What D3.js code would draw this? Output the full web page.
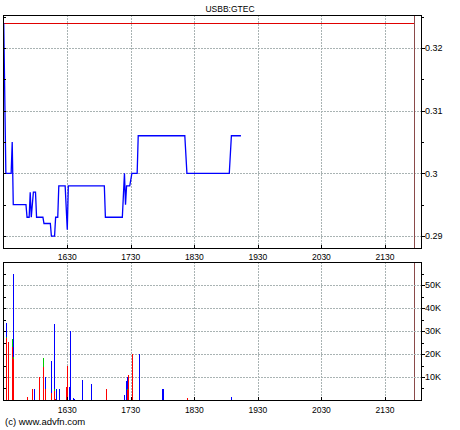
<!DOCTYPE html>
<html><head><meta charset="utf-8">
<script src="https://cdn.jsdelivr.net/npm/d3@7/dist/d3.min.js"></script>
<style>
html,body{margin:0;padding:0;background:#fff;}
svg{display:block;font-family:Arial,"Liberation Sans",sans-serif;}
</style></head>
<body>
<svg id="chart" width="460" height="430"></svg>
<script>
// ---- data (time in minutes since midnight) ----
const title = "USBB:GTEC";
const priceTimes  = [930,932,937,938,939,951,952,954,955,956,958,960,961,967,968,974,975,978,979,981,982,988,990,991,1025,1026,1042,1044,1045,1046,1049,1051,1056,1057,1101,1103,1143,1145,1154];
const priceValues = [0.324,0.300,0.300,0.305,0.295,0.295,0.293,0.293,0.297,0.293,0.297,0.297,0.293,0.293,0.292,0.292,0.290,0.290,0.293,0.293,0.298,0.298,0.291,0.298,0.298,0.293,0.293,0.300,0.295,0.298,0.298,0.300,0.300,0.306,0.306,0.300,0.300,0.306,0.306];
const prevClose = 0.324;
const markerTime = 1317;

const volTimes = [932,934,938,939,952,957,959,963,967,969,975,977,978,979,982,989,990,992,993,995,996,1004,1012,1027,1044,1045,1046,1047,1051,1058,1079,1080,1103,1145];
const volRed   = [26800,25400,22900,17700,1300,4800,0,10000,14500,4900,3000,4000,300,0,0,5800,14800,0,0,0,0,0,0,4900,0,0,4400,10900,20000,0,0,0,1000,0];
const volGreen = [700,0,3600,900,0,0,0,0,3800,0,0,600,0,0,0,0,0,0,0,0,0,0,0,0,0,0,600,0,0,0,0,0,0,0];
const volBlue  = [6100,0,0,36200,0,0,4800,0,0,5200,14000,28400,0,4800,4800,0,0,5800,30000,900,400,8700,7000,0,2000,8300,5000,0,0,20000,4900,4900,0,1300];

const xTickValues = [990,1050,1110,1170,1230,1290];
const xTickLabels = ["1630","1730","1830","1930","2030","2130"];
const priceTicks = [0.29,0.30,0.31,0.32];
const priceTickLabels = ["0.29","0.3","0.31","0.32"];
const priceMinorTicks = [0.29,0.295,0.30,0.305,0.31,0.315,0.32,0.325];
const volTicks = [10000,20000,30000,40000,50000];
const volTickLabels = ["10K","20K","30K","40K","50K"];
const volMinorTicks = [5000,10000,15000,20000,25000,30000,35000,40000,45000,50000,55000];
const copyright = "(c) www.advfn.com";

// ---- layout ----
const svg = d3.select("#chart");
const L = 3, R = 422;
const x = d3.scaleLinear().domain([929.3, 1325]).range([L, R]);
const P = {top:15, bottom:248};
const V = {top:262, bottom:400};
const yP = d3.scaleLinear().domain([0.28809, 0.32527]).range([P.bottom, P.top]);
const yV = d3.scaleLinear().domain([0, 60000]).range([V.bottom, V.top]);
const gridColor = "#a9b3b3";
const r5 = v => Math.round(v) + 0.5;

function panel(top, bottom, yScale, majors, labels, minors, labelSize, fmtLabels) {
  const g = svg.append("g");
  // vertical grid
  g.selectAll(".vg").data(xTickValues).enter().append("line")
    .attr("x1", d => r5(x(d))).attr("x2", d => r5(x(d)))
    .attr("y1", top).attr("y2", bottom)
    .attr("stroke", gridColor).attr("stroke-dasharray", "2,1").attr("shape-rendering","crispEdges");
  // horizontal grid
  g.selectAll(".hg").data(majors).enter().append("line")
    .attr("x1", L).attr("x2", R)
    .attr("y1", d => r5(yScale(d))).attr("y2", d => r5(yScale(d)))
    .attr("stroke", gridColor).attr("stroke-dasharray", "2,1").attr("shape-rendering","crispEdges");
  return g;
}

function frame(top, bottom, yScale, majors, labels, minors) {
  const g = svg.append("g").attr("shape-rendering","crispEdges");
  g.append("rect").attr("x", L + 0.5).attr("y", top + 0.5)
    .attr("width", R - L - 1).attr("height", bottom - top)
    .attr("fill","none").attr("stroke","#000").attr("stroke-width",1.3);
  // left inner minor ticks
  g.selectAll(".lt").data(minors).enter().append("line")
    .attr("x1", L).attr("x2", L + 3)
    .attr("y1", d => r5(yScale(d))).attr("y2", d => r5(yScale(d)))
    .attr("stroke","#000");
  // right outward ticks
  g.selectAll(".rt").data(minors).enter().append("line")
    .attr("x1", R - 1).attr("x2", d => majors.includes(d) ? R + 3 : R + 1.5)
    .attr("y1", d => r5(yScale(d))).attr("y2", d => r5(yScale(d)))
    .attr("stroke","#000");
  // bottom inner x ticks
  g.selectAll(".bt").data(xTickValues).enter().append("line")
    .attr("x1", d => r5(x(d))).attr("x2", d => r5(x(d)))
    .attr("y1", bottom + 0.5).attr("y2", bottom - 3)
    .attr("stroke","#000");
  // right labels
  svg.append("g").selectAll("text").data(majors).enter().append("text")
    .attr("x", R + 3).attr("y", d => yScale(d) + 3.3)
    .attr("font-size", "9px").attr("fill","#000")
    .text((d,i) => labels[i]);
}

// ---- price panel ----
panel(P.top, P.bottom, yP, priceTicks);
// previous close line
svg.append("line")
  .attr("x1", L).attr("x2", x(markerTime) + 1)
  .attr("y1", r5(yP(prevClose))).attr("y2", r5(yP(prevClose)))
  .attr("stroke", "#e00000").attr("stroke-width", 1).attr("shape-rendering","crispEdges");
// marker vertical line in both panels
[[P.top, P.bottom],[V.top, V.bottom]].forEach(([t,b]) => {
  svg.append("line")
    .attr("x1", r5(x(markerTime))).attr("x2", r5(x(markerTime)))
    .attr("y1", t).attr("y2", b)
    .attr("stroke", "#8a4a4a").attr("stroke-width", 1).attr("shape-rendering","crispEdges");
});
const priceData = priceTimes.map((t,i) => [t, priceValues[i]]);
svg.append("path").datum(priceData)
  .attr("fill","none").attr("stroke","#0000ff").attr("stroke-width",1.3)
  .attr("d", d3.line().x(d => x(d[0])).y(d => yP(d[1])));
frame(P.top, P.bottom, yP, priceTicks, priceTickLabels, priceMinorTicks);

// ---- volume panel ----
panel(V.top, V.bottom, yV, volTicks);
const bars = svg.append("g").attr("shape-rendering","crispEdges");
volTimes.forEach((t,i) => {
  const segs = [[volRed[i],"#ff0000"],[volGreen[i],"#00cc00"],[volBlue[i],"#0000ff"]];
  let base = 0;
  const bx = Math.round(x(t)) - 0.5;
  segs.forEach(([v,c]) => {
    if (v <= 0) return;
    bars.append("rect")
      .attr("x", bx).attr("width", 1.6)
      .attr("y", yV(base + v)).attr("height", yV(base) - yV(base + v))
      .attr("fill", c);
    base += v;
  });
});
frame(V.top, V.bottom, yV, volTicks, volTickLabels, volMinorTicks);

// ---- x labels ----
[[P.bottom + 12, "top"],[V.bottom + 13, "bot"]].forEach(([yy]) => {
  svg.append("g").selectAll("text").data(xTickValues).enter().append("text")
    .attr("x", d => x(d)).attr("y", yy)
    .attr("text-anchor","middle").attr("font-size","8.5px").attr("fill","#000")
    .text((d,i) => xTickLabels[i]);
});

// ---- title & copyright ----
svg.append("text").attr("x", 230).attr("y", 12)
  .attr("text-anchor","middle").attr("font-size","8.5px").attr("fill","#000").text(title);
svg.append("text").attr("x", 5).attr("y", 425)
  .attr("font-size","9.5px").attr("fill","#000").text(copyright);
</script>
</body></html>
